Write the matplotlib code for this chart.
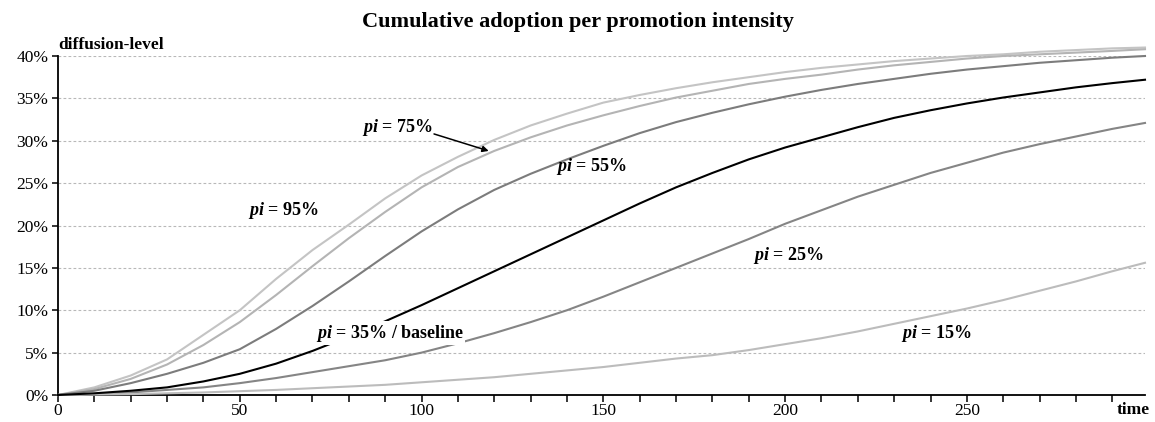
import matplotlib.pyplot as plt
from matplotlib.ticker import MultipleLocator, FuncFormatter

plt.rcParams["font.family"] = ["Liberation Serif", "DejaVu Serif"]
plt.rcParams["mathtext.fontset"] = "custom"
plt.rcParams["mathtext.bfit"] = "Liberation Serif:italic:bold"
plt.rcParams["mathtext.it"] = "Liberation Serif:italic:bold"

# time steps and diffusion level (%) per promotion intensity
time = [0, 10, 20, 30, 40, 50, 60, 70, 80, 90, 100, 110, 120, 130, 140, 150,
        160, 170, 180, 190, 200, 210, 220, 230, 240, 250, 260, 270, 280, 290, 299]

pi_95 = [0, 0.9, 2.3, 4.2, 7.1, 10.0, 13.7, 17.1, 20.1, 23.2, 25.9, 28.1, 30.1, 31.8,
         33.2, 34.5, 35.4, 36.2, 36.9, 37.5, 38.1, 38.6, 39.0, 39.4, 39.7, 40.0,
         40.2, 40.5, 40.7, 40.9, 41.0]
pi_75 = [0, 0.7, 1.9, 3.6, 5.9, 8.6, 11.8, 15.2, 18.5, 21.6, 24.5, 26.9, 28.8, 30.4,
         31.8, 33.0, 34.1, 35.1, 35.9, 36.7, 37.3, 37.8, 38.4, 38.9, 39.3, 39.7,
         40.0, 40.2, 40.4, 40.6, 40.8]
pi_55 = [0, 0.5, 1.4, 2.5, 3.8, 5.4, 7.8, 10.5, 13.4, 16.4, 19.3, 21.9, 24.2, 26.1,
         27.8, 29.4, 30.9, 32.2, 33.3, 34.3, 35.2, 36.0, 36.7, 37.3, 37.9, 38.4,
         38.8, 39.2, 39.5, 39.8, 40.0]
pi_35 = [0, 0.2, 0.5, 0.9, 1.6, 2.5, 3.7, 5.2, 6.9, 8.7, 10.6, 12.6, 14.6, 16.6,
         18.6, 20.6, 22.6, 24.5, 26.2, 27.8, 29.2, 30.4, 31.6, 32.7, 33.6, 34.4,
         35.1, 35.7, 36.3, 36.8, 37.2]
pi_25 = [0, 0.1, 0.3, 0.6, 0.9, 1.4, 2.0, 2.7, 3.4, 4.1, 5.0, 6.1, 7.3, 8.6,
         10.0, 11.6, 13.3, 15.0, 16.7, 18.4, 20.2, 21.8, 23.4, 24.8, 26.2, 27.4,
         28.6, 29.6, 30.5, 31.4, 32.1]
pi_15 = [0, 0.05, 0.1, 0.2, 0.3, 0.45, 0.6, 0.8, 1.0, 1.2, 1.5, 1.8, 2.1, 2.5,
         2.9, 3.3, 3.8, 4.3, 4.7, 5.3, 6.0, 6.7, 7.5, 8.4, 9.3, 10.2,
         11.2, 12.3, 13.4, 14.6, 15.6]

fig = plt.figure(figsize=(11.55, 4.22), dpi=100)
ax = fig.add_axes([58 / 1155, 27 / 422, 1087 / 1155, 339 / 422])

series = [
    (pi_95, "#c4c4c4"),
    (pi_75, "#b4b4b4"),
    (pi_55, "#7c7c7c"),
    (pi_25, "#858585"),
    (pi_15, "#bcbcbc"),
    (pi_35, "#000000"),
]
for values, color in series:
    ax.plot(time, values, color=color, lw=1.5, clip_on=False, zorder=3,
            solid_joinstyle="round")

ax.set_xlim(0, 299)
ax.set_ylim(0, 40)

for y in range(5, 45, 5):
    ax.axhline(y, color="#b8b8b8", lw=0.8, ls=(0, (2.5, 2)), zorder=1)

ax.spines["top"].set_visible(False)
ax.spines["right"].set_visible(False)
ax.spines["left"].set_linewidth(1.3)
ax.spines["bottom"].set_linewidth(1.3)

ax.xaxis.set_major_locator(MultipleLocator(50))
ax.xaxis.set_minor_locator(MultipleLocator(10))
ax.yaxis.set_major_locator(MultipleLocator(5))
ax.yaxis.set_major_formatter(FuncFormatter(lambda v, p: f"{v:.0f}%"))
ax.tick_params(axis="both", which="both", direction="out", length=5, width=1.1,
               labelsize=12.5, colors="black")
ax.tick_params(axis="x", pad=1)
ax.tick_params(axis="y", length=4, pad=3)

fig.text(0.5, 1 - 22 / 422, "Cumulative adoption per promotion intensity",
         ha="center", va="center", fontsize=16, fontweight="bold")
fig.text(58 / 1155, 1 - 45 / 422, "diffusion-level", ha="left", va="center",
         fontsize=12.5, fontweight="bold")
fig.text(1150 / 1155, 1 - 410 / 422, "time", ha="right", va="center",
         fontsize=12.5, fontweight="bold")

labels = [
    ("95%", 52.2, 21.8, False),
    ("75%", 83.5, 31.6, False),
    ("55%", 137.1, 27.0, False),
    ("35% / baseline", 70.9, 7.3, True),
    ("25%", 191.2, 16.5, False),
    ("15%", 231.9, 7.3, False),
]
for text, x, y, boxed in labels:
    kw = {}
    if boxed:
        kw["bbox"] = dict(facecolor="white", edgecolor="none", pad=1)
    ax.text(x, y, r"$\mathit{pi}$" + " = " + text, ha="left", va="center",
            fontsize=13, fontweight="bold", zorder=5, **kw)

ax.annotate("", xy=(119.2, 28.7), xytext=(102.7, 30.9),
            arrowprops=dict(arrowstyle="-|>", color="black", lw=1.1,
                            mutation_scale=9), zorder=5)

fig.savefig("out.png", dpi=100)
